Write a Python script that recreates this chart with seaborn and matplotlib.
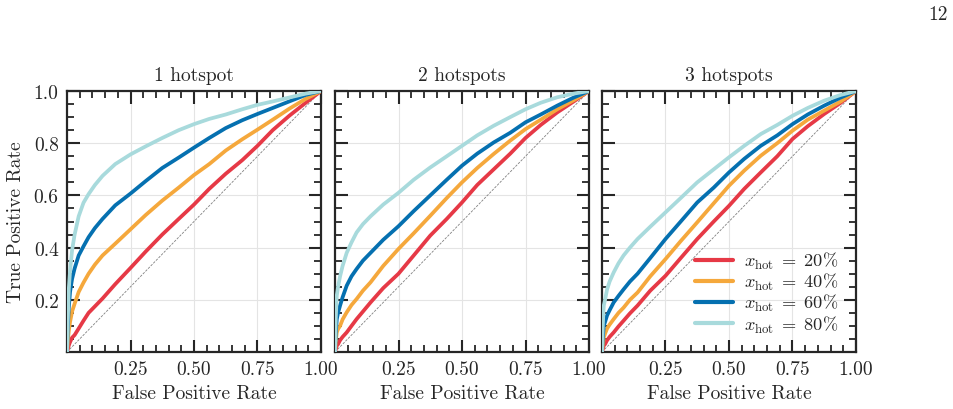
import numpy as np
import pandas as pd
import matplotlib
matplotlib.use("Agg")
import matplotlib.pyplot as plt
from matplotlib.ticker import MultipleLocator
import seaborn as sns

# ---------------- data ----------------
panels = ["1 hotspot", "2 hotspots", "3 hotspots"]
series = ["20%", "40%", "60%", "80%"]
fpr = [0, 0.003, 0.007, 0.012, 0.02, 0.03, 0.046, 0.065, 0.085, 0.11, 0.14, 0.19,
       0.25, 0.31, 0.375, 0.44, 0.5, 0.56, 0.625, 0.69, 0.75, 0.81, 0.875, 0.94, 1.0]

# 1 hotspot
tpr_p1_20 = [0, 0.01, 0.025, 0.038, 0.055, 0.065, 0.09, 0.12, 0.15, 0.175, 0.205, 0.26,
             0.322, 0.385, 0.45, 0.51, 0.565, 0.625, 0.683, 0.735, 0.79, 0.85, 0.905, 0.955, 1.0]
tpr_p1_40 = [0, 0.04, 0.08, 0.115, 0.155, 0.185, 0.23, 0.266, 0.30, 0.335, 0.37, 0.415,
             0.47, 0.525, 0.58, 0.63, 0.678, 0.72, 0.772, 0.815, 0.852, 0.89, 0.932, 0.97, 1.0]
tpr_p1_60 = [0, 0.09, 0.17, 0.23, 0.28, 0.32, 0.37, 0.405, 0.44, 0.475, 0.51, 0.562,
             0.607, 0.655, 0.705, 0.745, 0.783, 0.82, 0.858, 0.888, 0.912, 0.935, 0.96, 0.985, 1.0]
tpr_p1_80 = [0, 0.12, 0.24, 0.31, 0.39, 0.45, 0.52, 0.572, 0.605, 0.64, 0.675, 0.72,
             0.757, 0.788, 0.82, 0.85, 0.873, 0.893, 0.91, 0.93, 0.947, 0.96, 0.975, 0.99, 1.0]
# 2 hotspots
tpr_p2_20 = [0, 0.01, 0.024, 0.03, 0.045, 0.058, 0.075, 0.10, 0.126, 0.155, 0.19, 0.245,
             0.30, 0.37, 0.446, 0.51, 0.573, 0.64, 0.70, 0.76, 0.82, 0.87, 0.918, 0.96, 1.0]
tpr_p2_40 = [0, 0.04, 0.075, 0.088, 0.10, 0.125, 0.152, 0.18, 0.203, 0.235, 0.267, 0.33,
             0.395, 0.455, 0.522, 0.59, 0.65, 0.705, 0.759, 0.81, 0.854, 0.89, 0.93, 0.965, 1.0]
tpr_p2_60 = [0, 0.07, 0.126, 0.15, 0.178, 0.21, 0.254, 0.29, 0.318, 0.35, 0.38, 0.43,
             0.482, 0.54, 0.60, 0.66, 0.714, 0.76, 0.803, 0.84, 0.88, 0.91, 0.944, 0.975, 1.0]
tpr_p2_80 = [0, 0.13, 0.216, 0.25, 0.29, 0.33, 0.38, 0.42, 0.458, 0.49, 0.52, 0.565,
             0.61, 0.66, 0.707, 0.75, 0.79, 0.83, 0.867, 0.90, 0.93, 0.955, 0.976, 0.99, 1.0]
# 3 hotspots
tpr_p3_20 = [0, 0.01, 0.024, 0.03, 0.045, 0.058, 0.075, 0.098, 0.12, 0.148, 0.178, 0.235,
             0.292, 0.36, 0.433, 0.50, 0.56, 0.625, 0.688, 0.75, 0.816, 0.865, 0.912, 0.955, 1.0]
tpr_p3_40 = [0, 0.025, 0.056, 0.07, 0.09, 0.105, 0.126, 0.15, 0.17, 0.20, 0.228, 0.29,
             0.356, 0.425, 0.497, 0.57, 0.637, 0.695, 0.752, 0.80, 0.848, 0.89, 0.925, 0.96, 1.0]
tpr_p3_60 = [0, 0.05, 0.10, 0.115, 0.14, 0.16, 0.19, 0.215, 0.24, 0.27, 0.30, 0.36,
             0.433, 0.50, 0.573, 0.63, 0.688, 0.74, 0.79, 0.83, 0.873, 0.91, 0.944, 0.975, 1.0]
tpr_p3_80 = [0, 0.10, 0.178, 0.20, 0.24, 0.27, 0.305, 0.34, 0.37, 0.40, 0.433, 0.48,
             0.535, 0.59, 0.65, 0.70, 0.746, 0.79, 0.835, 0.87, 0.905, 0.935, 0.963, 0.985, 1.0]

tpr = {
    "1 hotspot": [tpr_p1_20, tpr_p1_40, tpr_p1_60, tpr_p1_80],
    "2 hotspots": [tpr_p2_20, tpr_p2_40, tpr_p2_60, tpr_p2_80],
    "3 hotspots": [tpr_p3_20, tpr_p3_40, tpr_p3_60, tpr_p3_80],
}

xticks = [0.25, 0.50, 0.75, 1.00]
xticklabels = ["0.25", "0.50", "0.75", "1.00"]
yticks = [0.2, 0.4, 0.6, 0.8, 1.0]
yticklabels = ["0.2", "0.4", "0.6", "0.8", "1.0"]

colors = ["#E63946", "#F5A83C", "#0570B0", "#A8DADC"]

# ---------------- build long table ----------------
rows = []
for p in panels:
    for s, vals in zip(series, tpr[p]):
        for x, y in zip(fpr, vals):
            rows.append((p, r"$x_{\mathrm{hot}}\;=\;%s$" % s.replace("%", r"\%"), x, y))
df = pd.DataFrame(rows, columns=["panel", "label", "fpr", "tpr"])
labels = list(dict.fromkeys(df["label"]))
palette = dict(zip(labels, colors))

# ---------------- style ----------------
sns.set_style("ticks")
plt.rcParams["font.family"] = ["cmr10", "DejaVu Serif"]
plt.rcParams["mathtext.fontset"] = "cm"
plt.rcParams["axes.formatter.use_mathtext"] = True
plt.rcParams["axes.unicode_minus"] = False
FS = 14

fig = plt.figure(figsize=(9.54, 4.10), dpi=100)
W, H = 954, 410
lefts = [67, 335, 602]
aw = 254
top, bottom = 92, 353
axes = []
for l in lefts:
    ax = fig.add_axes([l / W, 1 - bottom / H, aw / W, (bottom - top) / H])
    axes.append(ax)

for i, (ax, p) in enumerate(zip(axes, panels)):
    ax.grid(True, color="#e4e4e4", lw=0.8, zorder=0)
    ax.plot([0, 1], [0, 1], ls=(0, (3, 1.5)), color="#808080", lw=0.6, zorder=1)
    sub = df[df["panel"] == p]
    sns.lineplot(data=sub, x="fpr", y="tpr", hue="label", palette=palette,
                 estimator=None, sort=False, lw=2.7, ax=ax, legend=(i == 2),
                 zorder=3)
    ax.set_xlim(0, 1)
    ax.set_ylim(0, 1)
    ax.set_xticks(xticks)
    ax.set_xticklabels(xticklabels, fontsize=FS)
    ax.set_yticks(yticks)
    if i == 0:
        ax.set_yticklabels(yticklabels, fontsize=FS)
        ax.set_ylabel("True Positive Rate", fontsize=FS, labelpad=6)
    else:
        ax.set_yticklabels([])
        ax.set_ylabel("")
    ax.xaxis.set_minor_locator(MultipleLocator(0.05))
    ax.yaxis.set_minor_locator(MultipleLocator(0.05))
    ax.tick_params(which="major", direction="in", length=9, width=1.5,
                   top=True, right=True, pad=6)
    ax.tick_params(which="minor", direction="in", length=5, width=1.3,
                   top=True, right=True)
    for sp in ax.spines.values():
        sp.set_linewidth(1.6)
    ax.set_xlabel("False Positive Rate", fontsize=FS, labelpad=4)
    ax.set_title(p, fontsize=FS, pad=8)

leg = axes[2].legend(loc="lower right", frameon=False, fontsize=13.2,
                     handlelength=2.1, handletextpad=0.6, labelspacing=0.0,
                     borderaxespad=0.55, bbox_to_anchor=(1.0, 0.0))
for h in leg.get_lines():
    h.set_linewidth(3.0)

fig.text(938 / W, 1 - 15 / H, "12", fontsize=FS, ha="center", va="center")

fig.savefig("out.png", dpi=100)
